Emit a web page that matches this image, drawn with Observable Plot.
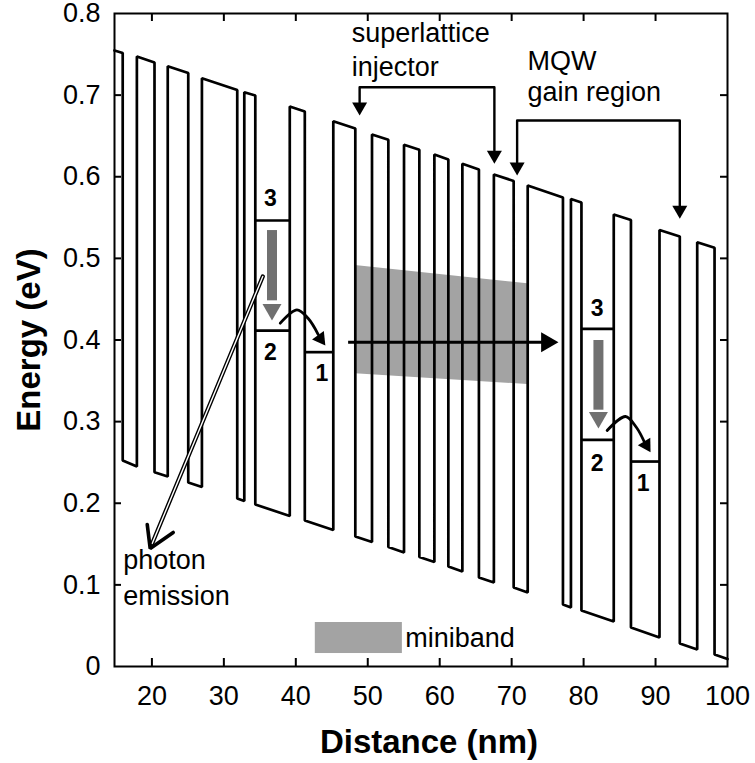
<!DOCTYPE html>
<html><head><meta charset="utf-8">
<script src="https://cdn.jsdelivr.net/npm/d3@7"></script>
<script src="https://cdn.jsdelivr.net/npm/@observablehq/plot@0.6"></script>
<style>
html,body{margin:0;padding:0;background:#fff;}
#chart svg{display:block;}
</style></head><body><div id="chart"></div>
<script>
// ---- conduction band profile ----
const layerEdges = [14.8, 15.94, 17.91, 20.36, 22.20, 25.05, 26.95, 31.86, 32.84, 34.37, 39.16, 41.25, 45.21, 48.27, 50.59, 52.86, 55.04, 57.17, 59.26, 61.20, 63.15, 65.45, 67.53, 70.28, 72.23, 77.13, 78.24, 79.70, 84.19, 86.58, 90.55, 93.37, 95.79, 98.20, 100.0];
const layerELeft = [0.7547, 0.2524, 0.7473, 0.2380, 0.7354, 0.2254, 0.7207, 0.2058, 0.7036, 0.1985, 0.6861, 0.1789, 0.6681, 0.1593, 0.6518, 0.1464, 0.6391, 0.1341, 0.6273, 0.1225, 0.6159, 0.1090, 0.6028, 0.0968, 0.5893, 0.0760, 0.5727, 0.0686, 0.5538, 0.0478, 0.5348, 0.0282, 0.5198, 0.0147];
const layerERight = [0.7516, 0.2450, 0.7400, 0.2328, 0.7271, 0.2199, 0.7063, 0.2027, 0.6995, 0.1844, 0.6799, 0.1672, 0.6591, 0.1525, 0.6453, 0.1397, 0.6330, 0.1280, 0.6211, 0.1164, 0.6089, 0.1029, 0.5948, 0.0907, 0.5746, 0.0723, 0.5685, 0.0551, 0.5470, 0.0355, 0.5268, 0.0208, 0.5130, 0.0092];

// ---- subband levels ----
const levelX1 = [34.37, 34.37, 41.25, 79.70, 79.70, 86.58];
const levelX2 = [39.16, 39.16, 45.21, 84.19, 84.19, 90.55];
const levelE = [0.5464, 0.4116, 0.3851, 0.4137, 0.2777, 0.2511];
const levelLabel = ["3", "2", "1", "3", "2", "1"];
const levelLabelX = [36.45, 36.45, 43.64, 81.88, 81.88, 88.28];
const levelLabelE = [0.5734, 0.3847, 0.3590, 0.4386, 0.2487, 0.2242];

// ---- radiative (3->2) arrows ----
const radX = [36.69, 82.06];
const radETop = [0.5341, 0.3994];
const radEBase = [0.4480, 0.3140];
const radETip = [0.4239, 0.2916];

// ---- 2->1 curved arrows ----
const hop1X = [37.84, 40.16, 41.73, 43.12];
const hop1E = [0.4206, 0.4370, 0.4263, 0.4067];
const hop2X = [83.27, 85.82, 87.35, 88.43];
const hop2E = [0.2891, 0.3063, 0.2928, 0.2753];
const hopTipX = [44.10, 89.30];
const hopTipE = [0.3933, 0.2625];

// ---- miniband ----
const minibandX = [48.27, 72.23];
const minibandELow = [0.3586, 0.3455];
const minibandEHigh = [0.4913, 0.4689];
const transportX = [47.34, 74.40];
const transportTipX = 76.50;
const transportE = 0.3973;

// ---- brackets ----
const injectorX = [48.87, 48.87, 67.60, 67.60];
const injectorE = [0.6910, 0.7097, 0.7097, 0.6322];
const injectorTipX = [48.87, 67.60];
const injectorTipE = [0.6750, 0.6159];
const gainX = [70.76, 70.76, 93.37, 93.37];
const gainE = [0.6175, 0.6689, 0.6689, 0.5644];
const gainTipX = [70.76, 93.37];
const gainTipE = [0.6015, 0.5485];

// ---- photon emission arrow ----
const photonX = [35.41, 20.04];
const photonE = [0.4778, 0.1507];
const photonHeadX = [19.35, 19.76, 22.96];
const photonHeadE = [0.1740, 0.1446, 0.1642];

// ---- legend ----
const legendX = [42.71, 54.81];
const legendE = [0.0159, 0.0539];

// ---- annotation texts ----
const annText = ["superlattice", "injector", "MQW", "gain region", "photon", "emission", "miniband"];
const annX = [47.77, 47.77, 72.19, 72.19, 16.01, 16.01, 55.22];
const annE = [0.7762, 0.7346, 0.7408, 0.7028, 0.1306, 0.0865, 0.0350];

// ---- axes ----
const xTicks = [20, 30, 40, 50, 60, 70, 80, 90, 100];
const yTicks = [0, 0.1, 0.2, 0.3, 0.4, 0.5, 0.6, 0.7, 0.8];

const band = [];
for (let i = 0; i < layerELeft.length; i++) {
  band.push({x: layerEdges[i], e: layerELeft[i]});
  band.push({x: layerEdges[i + 1], e: layerERight[i]});
}
const idx = n => d3.range(n);
const pts = (xs, es) => xs.map((x, i) => ({x, e: es[i]}));

const W = 755, H = 763, mL = 114, mR = 28, mT = 13, mB = 97;
const pw = W - mL - mR, ph = H - mT - mB;
const gray = "#a3a3a3", dark = "#707070";

const plot = Plot.plot({
  width: W, height: H,
  marginLeft: mL, marginRight: mR, marginTop: mT, marginBottom: mB,
  style: {fontFamily: "'Liberation Sans', Arial, sans-serif", background: "#fff", color: "#000"},
  x: {domain: [14.8, 100]},
  y: {domain: [0, 0.8]},
  marks: [
    // miniband shading
    Plot.areaY(idx(2), {x: i => minibandX[i], y1: i => minibandELow[i], y2: i => minibandEHigh[i], fill: gray}),
    // band profile
    Plot.line(band, {x: "x", y: "e", stroke: "#000", strokeWidth: 2.7, strokeLinejoin: "miter"}),
    // subband levels
    Plot.ruleY(idx(6), {x1: i => levelX1[i], x2: i => levelX2[i], y: i => levelE[i], stroke: "#000", strokeWidth: 2.7}),
    Plot.text(idx(6), {x: i => levelLabelX[i], y: i => levelLabelE[i], text: i => levelLabel[i], fontSize: 23, fontWeight: "bold"}),
    // radiative arrows
    Plot.ruleX(idx(2), {x: i => radX[i], y1: i => radETop[i], y2: i => radEBase[i], stroke: dark, strokeWidth: 10}),
    Plot.dot(idx(2), {x: i => radX[i], y: i => radETip[i], symbol: "triangle", r: 7.05, rotate: 180, fill: dark, stroke: "none", dy: -11}),
    // 2->1 hops
    Plot.line(pts(hop1X, hop1E), {x: "x", y: "e", curve: "catmull-rom", stroke: "#000", strokeWidth: 2.8}),
    Plot.line(pts(hop2X, hop2E), {x: "x", y: "e", curve: "catmull-rom", stroke: "#000", strokeWidth: 2.8}),
    Plot.dot([0], {x: i => hopTipX[0], y: i => hopTipE[0], symbol: "triangle", r: 5.4, rotate: 144, fill: "#000", stroke: "none", dx: -4.9, dy: -6.8}),
    Plot.dot([1], {x: i => hopTipX[1], y: i => hopTipE[1], symbol: "triangle", r: 5.4, rotate: 149, fill: "#000", stroke: "none", dx: -4.3, dy: -7.2}),
    // miniband transport arrow
    Plot.ruleY([transportE], {x1: transportX[0], x2: transportX[1], y: d => d, stroke: "#000", strokeWidth: 3}),
    Plot.dot([transportE], {x: transportTipX, y: d => d, symbol: "triangle", r: 7.42, rotate: 90, fill: "#000", stroke: "none", dx: -11.5}),
    // brackets
    Plot.line(pts(injectorX, injectorE), {x: "x", y: "e", stroke: "#000", strokeWidth: 2.4}),
    Plot.line(pts(gainX, gainE), {x: "x", y: "e", stroke: "#000", strokeWidth: 2.4}),
    Plot.dot(idx(2), {x: i => injectorTipX[i], y: i => injectorTipE[i], symbol: "triangle", r: 5.57, rotate: 180, fill: "#000", stroke: "none", dy: -8.7}),
    Plot.dot(idx(2), {x: i => gainTipX[i], y: i => gainTipE[i], symbol: "triangle", r: 5.57, rotate: 180, fill: "#000", stroke: "none", dy: -8.7}),
    // photon emission arrow (double line)
    Plot.line(pts(photonX, photonE), {x: "x", y: "e", stroke: "#000", strokeWidth: 4.2}),
    Plot.line(pts(photonX, photonE), {x: "x", y: "e", stroke: "#fff", strokeWidth: 1.4}),
    Plot.line(pts(photonHeadX, photonHeadE), {x: "x", y: "e", stroke: "#000", strokeWidth: 3.6, strokeLinejoin: "miter"}),
    // legend swatch
    Plot.rect([0], {x1: legendX[0], x2: legendX[1], y1: legendE[0], y2: legendE[1], fill: gray}),
    // annotation texts
    Plot.text(idx(annText.length), {x: i => annX[i], y: i => annE[i], text: i => annText[i], textAnchor: "start", fontSize: 27}),
    // frame + inward ticks
    Plot.frame({stroke: "#000", strokeWidth: 2}),
    Plot.ruleX(xTicks.slice(0, -1), {x: d => d, insetTop: ph - 8, stroke: "#000", strokeWidth: 2}),
    Plot.ruleX(xTicks.slice(0, -1), {x: d => d, insetBottom: ph - 8, stroke: "#000", strokeWidth: 2}),
    Plot.ruleY(yTicks.slice(1, -1), {y: d => d, insetRight: pw - 7, stroke: "#000", strokeWidth: 2}),
    Plot.ruleY(yTicks.slice(1, -1), {y: d => d, insetLeft: pw - 7, stroke: "#000", strokeWidth: 2}),
    // axes labels
    Plot.axisX(xTicks, {anchor: "bottom", tickSize: 0, tickPadding: 19, fontSize: 27, tickFormat: d => String(d), label: null}),
    Plot.axisY(yTicks, {anchor: "left", tickSize: 0, tickPadding: 14, fontSize: 27, tickFormat: d => d === 0 ? "0" : d.toFixed(1), label: null}),
    Plot.text(["Distance (nm)"], {frameAnchor: "bottom", dy: 76, dx: 8, textAnchor: "middle", lineAnchor: "middle", fontWeight: "bold", fontSize: 33}),
    Plot.text(["Energy (eV)"], {frameAnchor: "left", dx: -85, rotate: -90, textAnchor: "middle", lineAnchor: "middle", fontWeight: "bold", fontSize: 33})
  ]
});
document.getElementById("chart").appendChild(plot);
</script>
</body></html>
